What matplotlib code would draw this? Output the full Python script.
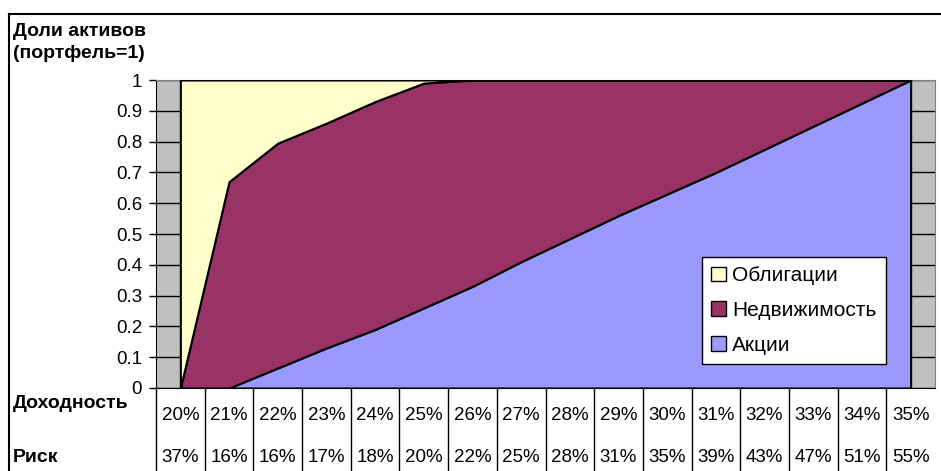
import matplotlib
matplotlib.use("Agg")
import matplotlib.pyplot as plt
from matplotlib.lines import Line2D
from matplotlib.patches import Patch
import matplotlib.transforms as mtransforms

plt.rcParams['font.family'] = ['Liberation Sans', 'DejaVu Sans']

# data
dohodnost = ["20%", "21%", "22%", "23%", "24%", "25%", "26%", "27%",
             "28%", "29%", "30%", "31%", "32%", "33%", "34%", "35%"]
risk = ["37%", "16%", "16%", "17%", "18%", "20%", "22%", "25%",
        "28%", "31%", "35%", "39%", "43%", "47%", "51%", "55%"]
akcii = [0.0, 0.0, 0.065, 0.13, 0.19, 0.26, 0.33, 0.41,
         0.485, 0.56, 0.63, 0.70, 0.775, 0.85, 0.925, 1.0]
nedvizh = [0.0, 0.67, 0.73, 0.73, 0.74, 0.73, 0.67, 0.59,
           0.515, 0.44, 0.37, 0.30, 0.225, 0.15, 0.075, 0.0]
obligacii = [1.0, 0.33, 0.205, 0.14, 0.07, 0.01, 0.0, 0.0,
             0.0, 0.0, 0.0, 0.0, 0.0, 0.0, 0.0, 0.0]

c_obl = "#FFFFCC"
c_ned = "#993366"
c_akc = "#9999FF"

W, H = 941, 471
fig = plt.figure(figsize=(W / 100, H / 100), dpi=100)
fig.patch.set_facecolor("white")

# plot area in pixels
left, right, top, bottom = 156, 935, 80, 388
ax = fig.add_axes([left / W, 1 - bottom / H, (right - left) / W, (bottom - top) / H])
ax.set_facecolor("#C0C0C0")

x = list(range(len(dohodnost)))
ax.stackplot(x, akcii, nedvizh, obligacii, colors=[c_akc, c_ned, c_obl],
             edgecolor="black", linewidth=1.5, zorder=3)

ax.set_xlim(-0.5, len(x) - 0.5)
ax.set_ylim(0, 1)
yt = [i / 10 for i in range(11)]
ax.set_yticks(yt)
ax.set_yticklabels(["0"] + ["%.1f" % v for v in yt[1:-1]] + ["1"], fontsize=13.5)
ax.yaxis.grid(True, color="black", linewidth=1, zorder=1)
ax.set_axisbelow(True)
ax.tick_params(axis="y", direction="out", length=5, width=1, pad=5)
ax.set_xticks([])

for s in ["top", "right"]:
    ax.spines[s].set_color("#808080")
ax.spines["left"].set_color("black")
ax.spines["bottom"].set_color("black")
ax.spines["bottom"].set_zorder(5)

# table below the axis
trans = mtransforms.blended_transform_factory(ax.transData, fig.transFigure)
for i in range(len(x)):
    ax.add_artist(Line2D([i - 0.5, i - 0.5], [1 - bottom / H, 0], transform=trans,
                         color="black", linewidth=1, clip_on=False))
    ax.text(i, 1 - 415 / H, dohodnost[i], transform=trans, ha="center",
            va="center", fontsize=13.5)
    ax.text(i, 1 - 458 / H, risk[i], transform=trans, ha="center",
            va="center", fontsize=13.5)

fig.text(13 / W, 1 - 403 / H, "Доходность", fontsize=14, fontweight="bold",
         ha="left", va="center")
fig.text(13 / W, 1 - 458 / H, "Риск", fontsize=14, fontweight="bold",
         ha="left", va="center")
fig.text(13 / W, 1 - 32 / H, "Доли активов", fontsize=14, fontweight="bold",
         ha="left", va="center")
fig.text(13 / W, 1 - 54 / H, "(портфель=1)", fontsize=14, fontweight="bold",
         ha="left", va="center")

# chart border
fig.add_artist(Line2D([9 / W, 9 / W], [0, 1 - 14 / H], color="black", linewidth=1.5))
fig.add_artist(Line2D([9 / W, 1], [1 - 14 / H, 1 - 14 / H], color="black", linewidth=1.5))

handles = [Patch(facecolor=c_obl, edgecolor="black", label="Облигации"),
           Patch(facecolor=c_ned, edgecolor="black", label="Недвижимость"),
           Patch(facecolor=c_akc, edgecolor="black", label="Акции")]
leg = fig.legend(handles=handles, loc="upper left",
                 bbox_to_anchor=(702 / W, 1 - 257 / H), fontsize=15,
                 frameon=True, fancybox=False, shadow=False, framealpha=1,
                 handlelength=0.7, handleheight=0.7, handletextpad=0.3,
                 borderpad=0.45, labelspacing=0.75, borderaxespad=0)
leg.get_frame().set_edgecolor("black")
leg.get_frame().set_facecolor("white")
leg.get_frame().set_linewidth(1)
leg.set_zorder(10)

fig.savefig("out.png", dpi=100)
